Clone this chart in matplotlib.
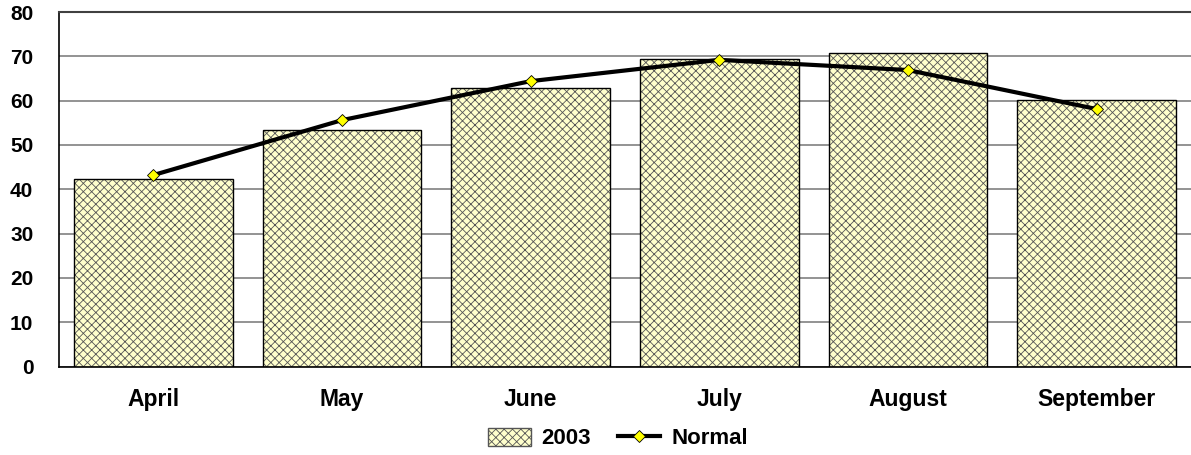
import numpy as np
import matplotlib.pyplot as plt
from matplotlib.patches import Patch
from matplotlib.lines import Line2D

plt.rcParams['font.family'] = ['Liberation Sans', 'DejaVu Sans']
plt.rcParams['font.weight'] = 'bold'
plt.rcParams['hatch.linewidth'] = 0.6

months = ['April', 'May', 'June', 'July', 'August', 'September']
temps_2003 = [42.3, 53.3, 62.9, 69.4, 70.7, 60.1]
temps_normal = [43.2, 55.6, 64.4, 69.2, 66.9, 58.1]
yticks = [0, 10, 20, 30, 40, 50, 60, 70, 80]

fig = plt.figure(figsize=(11.91, 4.55), dpi=100)
ax = fig.add_axes([0.0495, 0.1945, 0.9505, 0.7791])

x = np.arange(len(months))
w = 0.84
# hatched fill first, then a plain black outline on top
ax.bar(x, temps_2003, width=w, color='#FFFFCC', edgecolor='#555555',
       hatch='xxxx', linewidth=0, zorder=2)
ax.bar(x, temps_2003, width=w, fill=False, edgecolor='black',
       linewidth=1.0, zorder=3)
ax.plot(x, temps_normal, color='black', linewidth=3, marker='D',
        markersize=6, markerfacecolor='#FFFF00', markeredgecolor='black',
        markeredgewidth=0.6, zorder=4)

ax.set_xlim(-0.5, 5.5)
ax.set_ylim(0, 80)
ax.set_yticks(yticks)
ax.set_xticks(x)
ax.set_xticklabels(months)
ax.tick_params(axis='both', length=0)
ax.tick_params(axis='y', pad=18.5, labelsize=15)
ax.tick_params(axis='x', pad=15.5, labelsize=16.5)
ax.yaxis.grid(True, color='#808080', linewidth=1.2, zorder=0)
ax.set_axisbelow(True)
ax.spines['right'].set_visible(False)
ax.spines['top'].set_color('#404040')
ax.spines['top'].set_linewidth(1.5)
ax.spines['left'].set_linewidth(1.2)
ax.spines['bottom'].set_linewidth(1.2)

handles = [Patch(facecolor='#FFFFCC', edgecolor='#555555', hatch='xxxx'),
           Line2D([], [], color='black', linewidth=3, marker='D', markersize=6,
                  markerfacecolor='#FFFF00', markeredgecolor='black',
                  markeredgewidth=0.6)]
fig.legend(handles, ['2003', 'Normal'], loc='center', bbox_to_anchor=(0.519, 0.036),
           ncol=2, frameon=False, fontsize=16, handlelength=1.9,
           handleheight=0.85, columnspacing=1.2, handletextpad=0.5)

fig.savefig('out.png', dpi=100)
